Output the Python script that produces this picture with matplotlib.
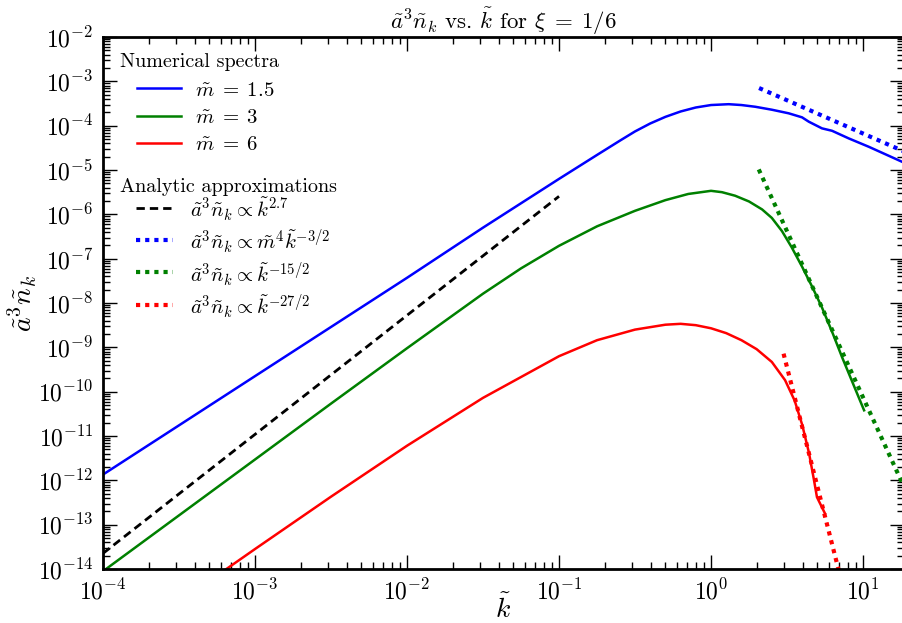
import matplotlib
matplotlib.use("Agg")
import matplotlib.pyplot as plt
from matplotlib.ticker import LogLocator, NullFormatter

# numerical spectra
k_m15 = [1e-4, 1e-3, 0.01, 0.0316, 0.1, 0.178, 0.251, 0.316, 0.398, 0.501,
         0.631, 0.794, 1.0, 1.306, 1.585, 1.954, 2.512, 3.243, 3.972, 4.395,
         5.37, 6.252, 8.054, 10.91, 18.88]
n_m15 = [1.35e-12, 2.24e-10, 3.7e-8, 5.0e-7, 6.3e-6, 2.19e-5, 4.57e-5, 7.4e-5,
         1.12e-4, 1.58e-4, 2.09e-4, 2.57e-4, 2.92e-4, 3.05e-4, 2.92e-4, 2.67e-4,
         2.29e-4, 1.90e-4, 1.54e-4, 1.23e-4, 8.69e-5, 7.67e-5, 5.16e-5, 3.34e-5,
         1.43e-5]

k_m3 = [1e-4, 1e-3, 0.00316, 0.01, 0.0316, 0.0562, 0.1, 0.178, 0.316, 0.501,
        0.708, 1.0, 1.18, 1.44, 1.778, 2.168, 2.512, 2.931, 3.388, 3.972,
        4.624, 5.37, 6.31, 7.278, 10.16]
n_m3 = [8.9e-15, 2.95e-12, 5.37e-11, 9.55e-10, 1.62e-8, 6.03e-8, 1.95e-7,
        5.37e-7, 1.20e-6, 2.09e-6, 2.88e-6, 3.39e-6, 3.16e-6, 2.63e-6, 1.95e-6,
        1.29e-6, 8.3e-7, 4.17e-7, 1.82e-7, 6.6e-8, 2.34e-8, 7.9e-9, 2.09e-9,
        6.0e-10, 3.8e-11]

k_m6 = [5.62e-4, 1e-3, 0.00316, 0.01, 0.0316, 0.1, 0.178, 0.316, 0.501, 0.631,
        0.794, 1.0, 1.259, 1.585, 1.995, 2.512, 3.069, 3.548, 3.981, 4.416,
        4.732, 4.977, 5.623]
n_m6 = [7.1e-15, 2.82e-14, 4.27e-13, 6.03e-12, 7.24e-11, 6.31e-10, 1.45e-9,
        2.51e-9, 3.24e-9, 3.39e-9, 3.16e-9, 2.69e-9, 2.09e-9, 1.45e-9, 9.1e-10,
        4.68e-10, 1.82e-10, 6.31e-11, 1.78e-11, 4.07e-12, 1.12e-12, 4.17e-13,
        1.78e-13]

# analytic power laws (end points)
k_fit27 = [1e-4, 0.1]
n_fit27 = [2.25e-14, 2.55e-6]
k_fit32 = [2.07, 18.9]
n_fit32 = [7.06e-4, 2.56e-5]
k_fit152 = [2.06, 18.9]
n_fit152 = [1.03e-5, 6.3e-13]
k_fit272 = [3.0, 7.1]
n_fit272 = [7.2e-10, 6.6e-15]

plt.rcParams.update({
    "font.family": "serif",
    "font.serif": ["cmr10", "DejaVu Serif"],
    "mathtext.fontset": "cm",
    "axes.formatter.use_mathtext": True,
})

fig = plt.figure(figsize=(9.03, 6.23), dpi=100)
ax = fig.add_axes([103 / 903, 1 - 569 / 623, 801 / 903, 532 / 623])

lw = 1.8
l1, = ax.plot(k_m15, n_m15, color="b", lw=lw)
l2, = ax.plot(k_m3, n_m3, color="g", lw=lw)
l3, = ax.plot(k_m6, n_m6, color="r", lw=lw)

d1, = ax.plot(k_fit27, n_fit27, color="k", lw=2, dashes=(3, 1.8))
d2, = ax.plot(k_fit32, n_fit32, color="b", lw=3, dashes=(1, 1.2))
d3, = ax.plot(k_fit152, n_fit152, color="g", lw=3, dashes=(1, 1.2))
d4, = ax.plot(k_fit272, n_fit272, color="r", lw=3, dashes=(1, 1.2))

ax.set_xscale("log")
ax.set_yscale("log")
ax.set_xlim(1e-4, 18.6)
ax.set_ylim(1e-14, 1e-2)

ax.xaxis.set_major_locator(LogLocator(base=10, numticks=20))
ax.yaxis.set_major_locator(LogLocator(base=10, numticks=20))
ax.xaxis.set_minor_locator(LogLocator(base=10, subs=range(2, 10), numticks=20))
ax.yaxis.set_minor_locator(LogLocator(base=10, subs=range(2, 10), numticks=20))
ax.xaxis.set_minor_formatter(NullFormatter())
ax.yaxis.set_minor_formatter(NullFormatter())

ax.tick_params(which="both", direction="in", top=True, right=True, labelsize=17)
ax.tick_params(which="major", length=10, width=1, pad=7)
ax.tick_params(which="minor", length=5, width=1)
for sp in ax.spines.values():
    sp.set_linewidth(2)

ax.set_title(r"$\tilde{a}^3\tilde{n}_k$ vs. $\tilde{k}$ for $\xi\;=\;1/6$",
             fontsize=16.5, pad=6)
ax.set_xlabel(r"$\tilde{k}$", fontsize=20, labelpad=-7)
ax.set_ylabel(r"$\tilde{a}^3\tilde{n}_k$", fontsize=20, labelpad=-1)

ax.text(0.021, 0.953, "Numerical spectra", transform=ax.transAxes,
        fontsize=14.5, va="center", ha="left")
ax.text(0.021, 0.718, "Analytic approximations", transform=ax.transAxes,
        fontsize=14.5, va="center", ha="left")

leg1 = ax.legend([l1, l2, l3],
                 [r"$\tilde{m}\;=\;1.5$", r"$\tilde{m}\;=\;3$", r"$\tilde{m}\;=\;6$"],
                 loc="upper left", bbox_to_anchor=(0.0424, 0.917), frameon=False,
                 fontsize=15, handlelength=2.1, handletextpad=0.7,
                 borderpad=0, borderaxespad=0, labelspacing=0.41)
ax.add_artist(leg1)
ax.legend([d1, d2, d3, d4],
          [r"$\tilde{a}^3\tilde{n}_k \propto \tilde{k}^{2.7}$",
           r"$\tilde{a}^3\tilde{n}_k \propto \tilde{m}^4\tilde{k}^{-3/2}$",
           r"$\tilde{a}^3\tilde{n}_k \propto \tilde{k}^{-15/2}$",
           r"$\tilde{a}^3\tilde{n}_k \propto \tilde{k}^{-27/2}$"],
          loc="upper left", bbox_to_anchor=(0.041, 0.702), frameon=False,
          fontsize=15, handlelength=1.8, handletextpad=0.8, handleheight=1.4,
          borderpad=0, borderaxespad=0, labelspacing=0.22)

fig.savefig("out.png", dpi=100)
